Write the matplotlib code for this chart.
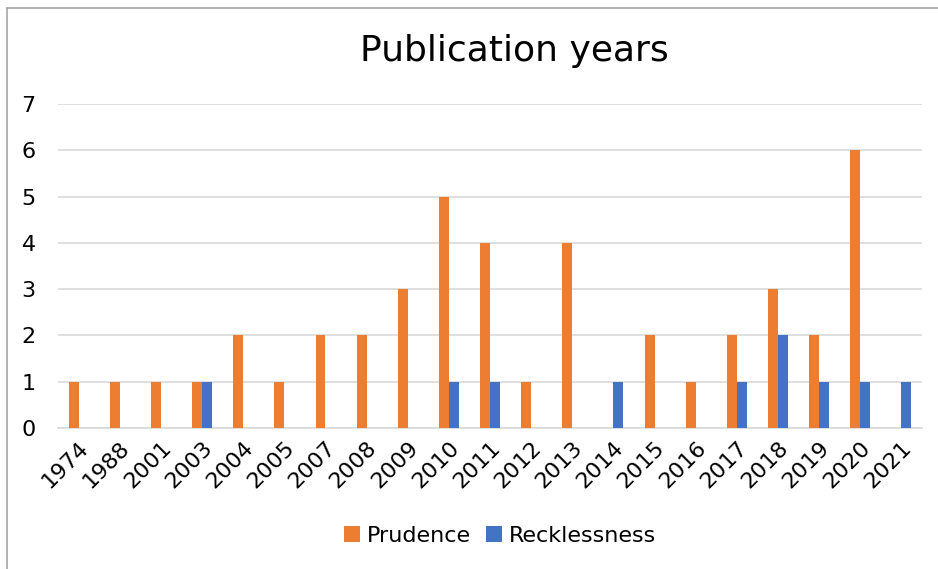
import matplotlib.pyplot as plt
import numpy as np
from matplotlib.lines import Line2D

# Publication counts per year
years = ['1974', '1988', '2001', '2003', '2004', '2005', '2007', '2008', '2009', '2010',
         '2011', '2012', '2013', '2014', '2015', '2016', '2017', '2018', '2019', '2020', '2021']
prudence = [1, 1, 1, 1, 2, 1, 2, 2, 3, 5, 4, 1, 4, 0, 2, 1, 2, 3, 2, 6, 0]
recklessness = [0, 0, 0, 1, 0, 0, 0, 0, 0, 1, 1, 0, 0, 1, 0, 0, 1, 2, 1, 1, 1]

fig = plt.figure(figsize=(9.38, 5.69), dpi=100)
ax = fig.add_axes([0.0618, 0.2478, 0.9212, 0.5692])

x = np.arange(len(years))
w = 0.24
ax.bar(x - w / 2, prudence, width=w, color='#ED7D31', label='Prudence', zorder=3)
ax.bar(x + w / 2, recklessness, width=w, color='#4472C4', label='Recklessness', zorder=3)

ax.set_xlim(-0.5, len(years) - 0.5)
ax.set_ylim(0, 7)
ax.set_yticks(range(8))
ax.yaxis.grid(True, color='#D9D9D9', linewidth=1.2, zorder=0)
for s in ['top', 'right', 'left']:
    ax.spines[s].set_visible(False)
ax.spines['bottom'].set_color('#D9D9D9')
ax.spines['bottom'].set_linewidth(1.2)
ax.tick_params(length=0, labelsize=16)
ax.tick_params(axis='y', pad=16)
ax.tick_params(axis='x', pad=7)
ax.set_xticks(x)
ax.set_xticklabels(years, rotation=45, ha='right', rotation_mode='anchor')

fig.text(0.548, 0.911, 'Publication years', fontsize=26, ha='center', va='center')

fig.legend(loc='center', bbox_to_anchor=(0.533, 0.058), ncol=2, frameon=False,
           fontsize=16, handlelength=0.7, handleheight=0.7, handletextpad=0.3,
           columnspacing=0.7)

# outer chart border (left and top only visible in the crop)
fig.add_artist(Line2D([7 / 938, 7 / 938], [0, 1 - 8 / 569], color='#A6A6A6', lw=1.2))
fig.add_artist(Line2D([7 / 938, 1], [1 - 8 / 569, 1 - 8 / 569], color='#A6A6A6', lw=1.2))

plt.savefig('out.png', dpi=100)
